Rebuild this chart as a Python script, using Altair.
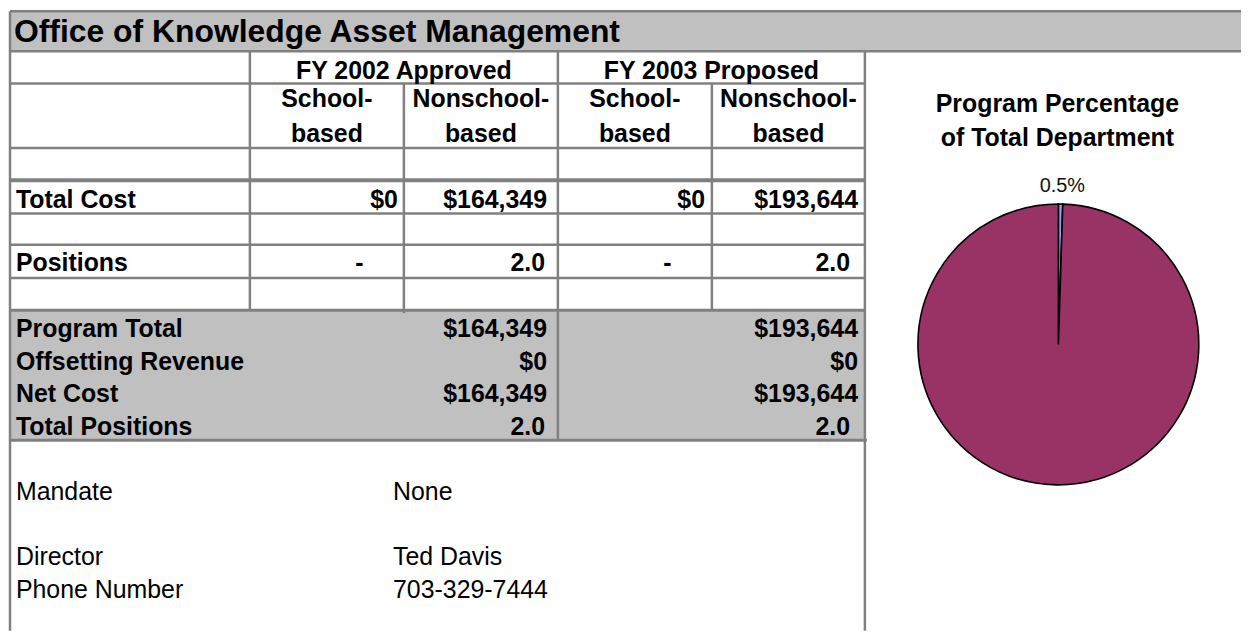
import altair as alt
import pandas as pd

# ---------------- data ----------------
title_text = "Office of Knowledge Asset Management"
fy_headers = ["FY 2002 Approved", "FY 2003 Proposed"]
sub_header_top = ["School-", "Nonschool-", "School-", "Nonschool-"]
sub_header_bottom = ["based", "based", "based", "based"]
detail_labels = ["Total Cost", "Positions"]
total_cost = [0, 164349, 0, 193644]
positions = [0.0, 2.0, 0.0, 2.0]
summary_labels = ["Program Total", "Offsetting Revenue", "Net Cost", "Total Positions"]
summary_fy2002 = [164349, 0, 164349, 2.0]
summary_fy2003 = [193644, 0, 193644, 2.0]
info_labels = ["Mandate", "Director", "Phone Number"]
info_values = ["None", "Ted Davis", "703-329-7444"]
pie_title_lines = ["Program Percentage", "of Total Department"]
pie_slices = ["Program", "Rest of Department"]
pie_percent = [0.5, 99.5]
pie_colors = ["#9999FF", "#993366"]


def money(v):
    return f"${v:,.0f}"


def pos(v):
    return "-" if v == 0 else f"{v:.1f}"


# ---------------- layout (reference pixel space) ----------------
XL, XR = 5, 1251
YT, YB = 4, 639
W, H = 1235, 623
XS = alt.Scale(domain=[XL, XR], nice=False, zero=False)
YS = alt.Scale(domain=[YT, YB], reverse=True, nice=False, zero=False)
FONT = "Liberation Sans"
GRID = "#808080"
GREY = "#C0C0C0"

COL = [4, 247, 403, 559, 715, 870]
TITLE_TOP, TITLE_BOT = 5, 46
FY_BOT, HEAD_BOT, GAP1, COST_BOT, GAP2, POS_BOT, GAP3, GREY_BOT = 79, 145, 178, 212, 244, 278, 311, 444

# anchors for values
money_right = [397, 548, 708, 863]
num_right = [397, 546, 708, 855]
dash_center = [358, 514, 670, 826]
summary_right = {"2002": (548, 546), "2003": (863, 855)}
summary_base = [338, 372, 405, 439]
LABEL_X = 10
INFO_X, INFO_VAL_X = 10, 392
info_base = [505, 572, 605]
PIE_CX, PIE_CY, PIE_R = 1066, 346, 141

# ---------------- rects ----------------
rects = pd.DataFrame([
    dict(x=COL[0], x2=XR, y=TITLE_TOP, y2=TITLE_BOT),
    dict(x=COL[0], x2=COL[5], y=GAP3, y2=GREY_BOT),
])

# ---------------- grid rules ----------------
rules = []


def h(y, x0, x1, w=2.5):
    rules.append(dict(x=x0, x2=x1, y=y, y2=y, w=w))


def v(x, y0, y1, w=2.5):
    rules.append(dict(x=x, x2=x, y=y0, y2=y1, w=w))


h(TITLE_TOP, COL[0], XR)
h(TITLE_BOT, COL[0], XR)
for yy in [FY_BOT, HEAD_BOT, COST_BOT, GAP2, POS_BOT]:
    h(yy, COL[0], COL[5])
h(GAP1, COL[0], COL[5], 4)
h(GAP3, COL[0], COL[5], 3)
h(GREY_BOT, COL[0], COL[5] + 2, 3)
v(COL[0], TITLE_TOP, YB)
v(COL[5], TITLE_BOT, YB)
v(COL[1], TITLE_BOT, GAP3)
v(COL[2], FY_BOT, GAP3 + 3)
v(COL[3], TITLE_BOT, GREY_BOT)
v(COL[4], FY_BOT, GAP3)
rules = pd.DataFrame(rules)

# ---------------- texts ----------------
bold_center, bold_right, bold_left, reg_left = [], [], [], []

for i, t in enumerate(fy_headers):
    bold_center.append(dict(x=(COL[1 + 2 * i] + COL[3 + 2 * i]) / 2, y=74, t=t))
for i in range(4):
    cx = (COL[1 + i] + COL[2 + i]) / 2
    bold_center.append(dict(x=cx, y=103, t=sub_header_top[i]))
    bold_center.append(dict(x=cx, y=139, t=sub_header_bottom[i]))

bold_left.append(dict(x=LABEL_X, y=206, t=detail_labels[0]))
bold_left.append(dict(x=LABEL_X, y=271, t=detail_labels[1]))
for i in range(4):
    bold_right.append(dict(x=money_right[i], y=206, t=money(total_cost[i])))
    s = pos(positions[i])
    if s == "-":
        bold_center.append(dict(x=dash_center[i], y=271, t=s))
    else:
        bold_right.append(dict(x=num_right[i], y=271, t=s))

for i, lab in enumerate(summary_labels):
    bold_left.append(dict(x=LABEL_X, y=summary_base[i], t=lab))
    last = i == len(summary_labels) - 1
    for key, vals in (("2002", summary_fy2002), ("2003", summary_fy2003)):
        mr, nr = summary_right[key]
        bold_right.append(dict(x=nr if last else mr, y=summary_base[i],
                               t=pos(vals[i]) if last else money(vals[i])))

for i in range(len(info_labels)):
    reg_left.append(dict(x=INFO_X, y=info_base[i], t=info_labels[i]))
    reg_left.append(dict(x=INFO_VAL_X, y=info_base[i], t=info_values[i]))

pie_title = [dict(x=1065, y=108, t=pie_title_lines[0]), dict(x=1065, y=143, t=pie_title_lines[1])]
pct_label = [dict(x=1070, y=190, t=f"{pie_percent[0]:.1f}%")]
title_row = [dict(x=8, y=36, t=title_text)]


def xy():
    return dict(x=alt.X("x:Q", scale=XS, axis=None), y=alt.Y("y:Q", scale=YS, axis=None))


def text_layer(rows, align, size, bold=True, color="#000000"):
    return alt.Chart(pd.DataFrame(rows)).mark_text(
        align=align, baseline="alphabetic", font=FONT, fontSize=size,
        fontWeight="bold" if bold else "normal", color=color
    ).encode(text="t:N", **xy())


rect_layer = alt.Chart(rects).mark_rect(color=GREY).encode(
    x2="x2:Q", y2="y2:Q", **xy())

rule_layer = alt.Chart(rules).mark_rule(color=GRID).encode(
    x2="x2:Q", y2="y2:Q", strokeWidth=alt.StrokeWidth("w:Q", scale=None), **xy())

pie_df = pd.DataFrame({
    "slice": pie_slices, "pct": pie_percent, "ord": list(range(len(pie_slices))),
    "cx": [PIE_CX] * len(pie_slices), "cy": [PIE_CY] * len(pie_slices),
})
pie_layer = alt.Chart(pie_df).mark_arc(radius=PIE_R, stroke="#000000", strokeWidth=1.6).encode(
    theta=alt.Theta("pct:Q", stack=True),
    color=alt.Color("slice:N", scale=alt.Scale(domain=pie_slices, range=pie_colors), legend=None),
    order=alt.Order("ord:Q"),
    x=alt.X("cx:Q", scale=XS, axis=None),
    y=alt.Y("cy:Q", scale=YS, axis=None),
)

chart = alt.layer(
    rect_layer,
    rule_layer,
    text_layer(title_row, "left", 32),
    text_layer(bold_left, "left", 25),
    text_layer(bold_right, "right", 25),
    text_layer(bold_center, "center", 25),
    text_layer(reg_left, "left", 25, bold=False),
    text_layer(pie_title, "center", 25),
    text_layer(pct_label, "center", 20, bold=False, color="#111111"),
    pie_layer,
).properties(width=W, height=H, padding=0, background="#FFFFFF").configure_view(strokeWidth=0)

chart.save("out.html", embed_options={"renderer": "svg", "actions": False})
